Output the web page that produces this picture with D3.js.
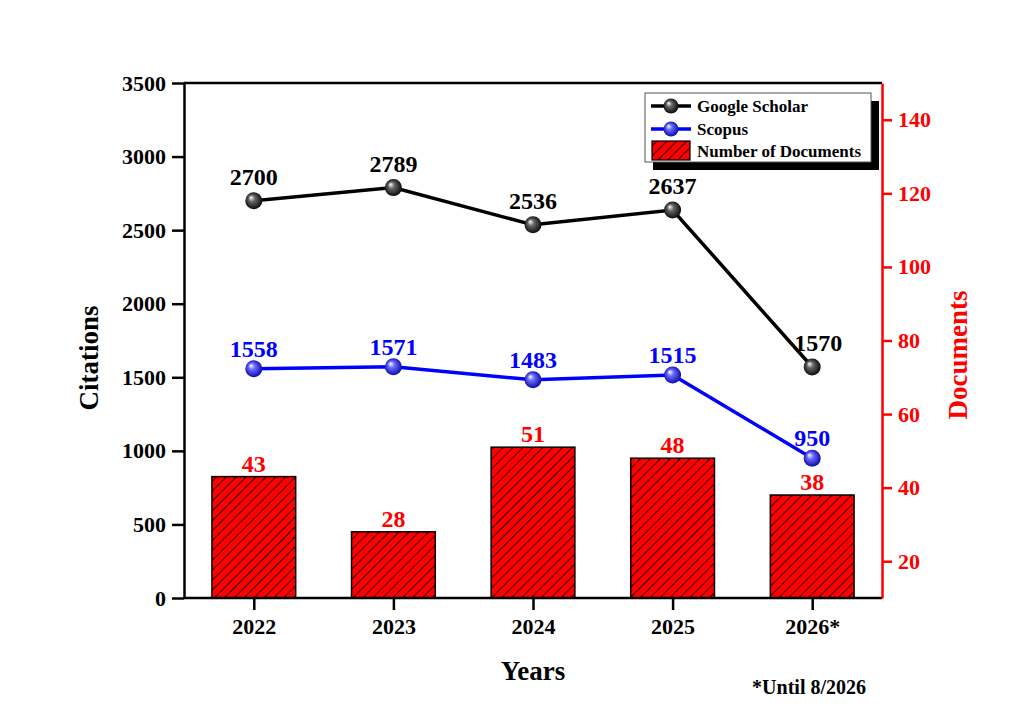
<!DOCTYPE html>
<html>
<head>
<meta charset="utf-8">
<script src="https://cdn.jsdelivr.net/npm/d3@7"></script>
<style>
  body { margin: 0; background: #fff; }
  svg text { font-family: "Liberation Serif", "Times New Roman", serif; font-weight: bold; }
</style>
</head>
<body>
<div id="chart"></div>
<script>
// Chart data
const years = ["2022", "2023", "2024", "2025", "2026*"];
const googleScholar = [2700, 2789, 2536, 2637, 1570];
const scopus = [1558, 1571, 1483, 1515, 950];
const documents = [43, 28, 51, 48, 38];
const citationTicks = [0, 500, 1000, 1500, 2000, 2500, 3000, 3500];
const documentTicks = [20, 40, 60, 80, 100, 120, 140];

const W = 1024, H = 718;
const margin = { top: 83, right: 142, bottom: 120, left: 184 };
const width = W - margin.left - margin.right;
const height = H - margin.top - margin.bottom;

const svg = d3.select("#chart").append("svg")
  .attr("width", W)
  .attr("height", H);

const defs = svg.append("defs");

// Hatch pattern for bars
const pat = defs.append("pattern")
  .attr("id", "hatch")
  .attr("patternUnits", "userSpaceOnUse")
  .attr("width", 7)
  .attr("height", 7)
  .attr("patternTransform", "rotate(45)");
pat.append("rect").attr("width", 7).attr("height", 7).attr("fill", "#ff0000");
pat.append("line")
  .attr("x1", 0.5).attr("y1", 0).attr("x2", 0.5).attr("y2", 7)
  .attr("stroke", "#000").attr("stroke-width", 0.8);

// Sphere gradients for markers
function sphere(id, mid, dark) {
  const g = defs.append("radialGradient")
    .attr("id", id)
    .attr("cx", "50%").attr("cy", "50%").attr("r", "55%")
    .attr("fx", "32%").attr("fy", "30%");
  g.append("stop").attr("offset", "0%").attr("stop-color", "#ffffff");
  g.append("stop").attr("offset", "35%").attr("stop-color", mid);
  g.append("stop").attr("offset", "100%").attr("stop-color", dark);
}
sphere("ballBlack", "#666", "#000");
sphere("ballBlue", "#6b6bff", "#0000a0");

const g = svg.append("g")
  .attr("transform", `translate(${margin.left},${margin.top})`);

// Scales
const x = d3.scalePoint()
  .domain(years)
  .range([0, width])
  .padding(0.5);
const y = d3.scaleLinear().domain([0, 3500]).range([height, 0]);
const y2 = d3.scaleLinear().domain([10, 150]).range([height, 0]);
const barW = x.step() * 0.6;

// Bars
g.selectAll("rect.bar")
  .data(documents)
  .enter()
  .append("rect")
  .attr("class", "bar")
  .attr("x", (d, i) => x(years[i]) - barW / 2)
  .attr("y", d => y2(d))
  .attr("width", barW)
  .attr("height", d => height - y2(d))
  .attr("fill", "url(#hatch)")
  .attr("stroke", "#000")
  .attr("stroke-width", 1.5);

g.selectAll("text.barLabel")
  .data(documents)
  .enter()
  .append("text")
  .attr("x", (d, i) => x(years[i]))
  .attr("y", d => y2(d) - 5)
  .attr("text-anchor", "middle")
  .attr("font-size", 24)
  .attr("fill", "#ff0000")
  .text(d => d);

// Lines
const line = d3.line()
  .x((d, i) => x(years[i]))
  .y(d => y(d));

function drawSeries(data, color, ball, dy, cls) {
  g.append("path")
    .datum(data)
    .attr("d", line)
    .attr("fill", "none")
    .attr("stroke", color)
    .attr("stroke-width", 3.5);
  g.selectAll("circle." + cls)
    .data(data)
    .enter()
    .append("circle")
    .attr("class", cls)
    .attr("cx", (d, i) => x(years[i]))
    .attr("cy", d => y(d))
    .attr("r", 8.5)
    .attr("fill", `url(#${ball})`);
  g.selectAll("text." + cls)
    .data(data)
    .enter()
    .append("text")
    .attr("class", cls)
    .attr("x", (d, i) => x(years[i]) + (i === 4 && cls === "gs" ? 6 : 0))
    .attr("y", d => y(d) + dy)
    .attr("text-anchor", "middle")
    .attr("font-size", 24)
    .attr("fill", color)
    .text(d => d);
}
drawSeries(googleScholar, "#000", "ballBlack", -16, "gs");
drawSeries(scopus, "#0000ff", "ballBlue", -12, "sc");

// Top border
g.append("line")
  .attr("x1", 0).attr("x2", width)
  .attr("y1", 0).attr("y2", 0)
  .attr("stroke", "#000").attr("stroke-width", 2.5);

// Axes
const gX = g.append("g")
  .attr("transform", `translate(0,${height})`)
  .call(d3.axisBottom(x).tickSize(12).tickPadding(8).tickSizeOuter(0));
gX.select(".domain").attr("d", `M0,0H${width}`);
gX.selectAll("text").attr("font-size", 22).attr("fill", "#000");

const gY = g.append("g")
  .call(d3.axisLeft(y).tickValues(citationTicks).tickFormat(d3.format("d"))
    .tickSize(12).tickPadding(6).tickSizeOuter(0));
gY.selectAll("text").attr("font-size", 22).attr("fill", "#000");

const gY2 = g.append("g")
  .attr("transform", `translate(${width},0)`)
  .call(d3.axisRight(y2).tickValues(documentTicks).tickSize(10).tickPadding(6).tickSizeOuter(0));
gY2.selectAll("text").attr("font-size", 22).attr("fill", "#ff0000");
gY2.selectAll("line").attr("stroke", "#ff0000");
gY2.select(".domain").attr("stroke", "#ff0000");

[gX, gY, gY2].forEach(a => {
  a.attr("font-family", null);
  a.selectAll("line, .domain").attr("stroke-width", 2.5);
});

// Axis titles
svg.append("text")
  .attr("transform", `translate(98,358) rotate(-90)`)
  .attr("text-anchor", "middle")
  .attr("font-size", 27)
  .attr("fill", "#000")
  .text("Citations");

svg.append("text")
  .attr("transform", `translate(967,355) rotate(-90)`)
  .attr("text-anchor", "middle")
  .attr("font-size", 27)
  .attr("fill", "#ff0000")
  .text("Documents");

svg.append("text")
  .attr("x", margin.left + width / 2)
  .attr("y", 680)
  .attr("text-anchor", "middle")
  .attr("font-size", 27)
  .attr("fill", "#000")
  .text("Years");

svg.append("text")
  .attr("x", 866)
  .attr("y", 694)
  .attr("text-anchor", "end")
  .attr("font-size", 20)
  .attr("fill", "#000")
  .text("*Until 8/2026");

// Legend
const lg = svg.append("g").attr("transform", "translate(645,93)");
lg.append("rect")
  .attr("x", 8).attr("y", 8).attr("width", 226).attr("height", 69)
  .attr("fill", "#000");
lg.append("rect")
  .attr("width", 226).attr("height", 69)
  .attr("fill", "#fff").attr("stroke", "#555").attr("stroke-width", 1);

const legendItems = [
  { label: "Google Scholar", color: "#000", ball: "ballBlack" },
  { label: "Scopus", color: "#0000ff", ball: "ballBlue" }
];
legendItems.forEach((d, i) => {
  const cy = 13 + i * 23;
  lg.append("line")
    .attr("x1", 6).attr("x2", 46).attr("y1", cy).attr("y2", cy)
    .attr("stroke", d.color).attr("stroke-width", 3.5);
  lg.append("circle")
    .attr("cx", 26).attr("cy", cy).attr("r", 7.5)
    .attr("fill", `url(#${d.ball})`);
  lg.append("text")
    .attr("x", 52).attr("y", cy + 6)
    .attr("font-size", 17)
    .attr("fill", "#000")
    .text(d.label);
});
lg.append("rect")
  .attr("x", 7).attr("y", 48).attr("width", 38).attr("height", 19)
  .attr("fill", "url(#hatch)").attr("stroke", "#000").attr("stroke-width", 1.2);
lg.append("text")
  .attr("x", 52).attr("y", 64)
  .attr("font-size", 17)
  .attr("fill", "#000")
  .text("Number of Documents");
</script>
</body>
</html>
